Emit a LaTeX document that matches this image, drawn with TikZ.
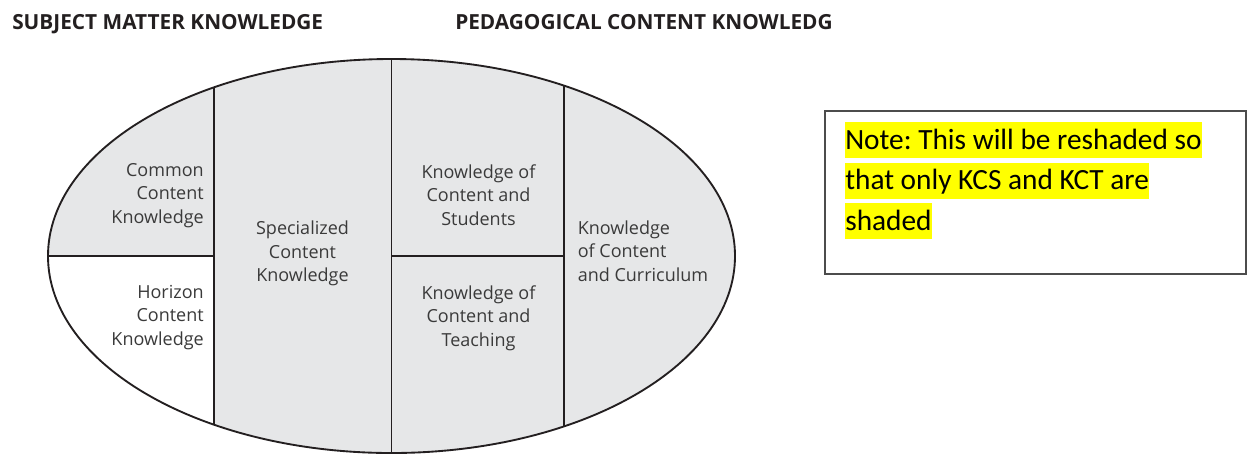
\documentclass[tikz,border=0pt]{standalone}
\usepackage{fontspec}
\setmainfont{Open Sans}
\newfontfamily\notefont{Carlito}
\definecolor{kgray}{HTML}{E6E7E8}
\definecolor{kink}{HTML}{231F20}
\definecolor{ktext}{HTML}{3A3A3A}
\definecolor{hlyellow}{HTML}{FFFF00}
\frenchspacing

\begin{document}
\begin{tikzpicture}[x=0.75pt,y=0.75pt,yscale=-1,xscale=1,
  divider/.style={draw=kink,line width=1.4pt},
  lbl/.style={inner sep=0pt,text=ktext,font=\fontsize{13.5}{17.8}\selectfont},
  heading/.style={anchor=base west,inner sep=0pt,text=kink,font=\bfseries\fontsize{15.6}{18}\selectfont},
  hl/.style={anchor=base west,inner sep=0pt,fill=hlyellow,text height=20.25pt,text depth=6.75pt,font=\notefont\fontsize{22}{27}\selectfont}]
\path[use as bounding box] (0,0) rectangle (1248,455);

%Shape: Ellipse
\fill[kgray] (391.5,256) ellipse [x radius=343.5, y radius=197];
\begin{scope}
\clip (391.5,256) ellipse [x radius=343.5, y radius=197];
%Shape: Rectangle
\fill[white] (30,256) rectangle (214,470);
%Straight Lines
\draw[divider] (214,40) -- (214,470);
\draw[divider] (391.5,40) -- (391.5,470);
\draw[divider] (564,40) -- (564,470);
%Straight Lines
\draw[divider] (30,256) -- (214,256);
\draw[divider] (391.5,256) -- (564,256);
\end{scope}
\draw[kink,line width=1.4pt] (391.5,256) ellipse [x radius=343.5, y radius=197];

%Shape: Rectangle
\draw[black!70,line width=1.2pt] (825,111) rectangle (1246,274);

% Text Node
\node[heading] (smk) at (12,29.3) {SUBJECT MATTER KNOWLEDGE};
% Text Node
\node[heading] (pck) at (455,29.3) {PEDAGOGICAL CONTENT KNOWLEDG};
% Text Node
\node[lbl,anchor=east,align=right] (cck) at (204,195.5) {Common\\Content\\Knowledge};
% Text Node
\node[lbl,anchor=east,align=right] (hck) at (204,317.5) {Horizon\\Content\\Knowledge};
% Text Node
\node[lbl,align=center] (sck) at (302.5,253.5) {Specialized\\Content\\Knowledge};
% Text Node
\node[lbl,align=center] (kcs) at (478.5,195) {Knowledge of\\Content and\\Students};
% Text Node
\node[lbl,align=center] (kct) at (478.5,318) {Knowledge of\\Content and\\Teaching};
% Text Node
\node[lbl,anchor=west,align=left] (kcc) at (577.5,251) {Knowledge\\of Content\\and Curriculum};

% Text Node
\node[hl] (noteA) at (845,149) {Note: This will be reshaded so};
% Text Node
\node[hl] (noteB) at (845,189.5) {that only KCS and KCT are};
% Text Node
\node[hl] (noteC) at (845,230) {shaded};

\end{tikzpicture}
\end{document}
